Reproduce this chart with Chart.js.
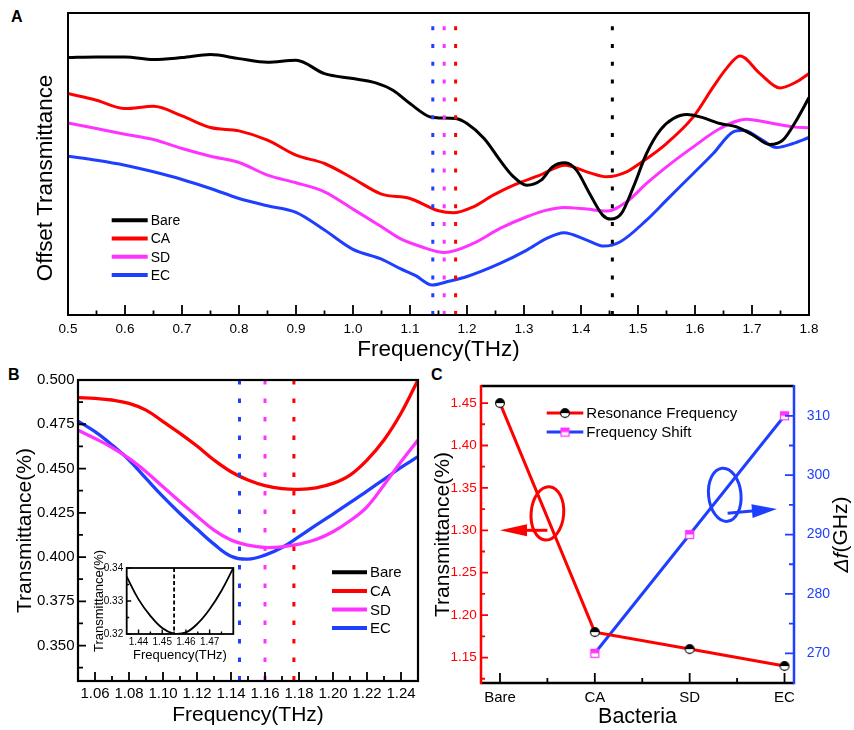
<!DOCTYPE html>
<html><head><meta charset="utf-8">
<script src="https://cdn.jsdelivr.net/npm/chart.js@4/dist/chart.umd.min.js"></script>
<style>
html,body{margin:0;padding:0;background:#fff;}
body{width:854px;height:730px;position:relative;overflow:hidden;font-family:"Liberation Sans",Arial,sans-serif;}
canvas{position:absolute;}
.pl{position:absolute;font-weight:bold;font-size:16px;line-height:16px;color:#000;}
</style></head><body>
<div class="pl" style="left:11px;top:9px">A</div>
<div class="pl" style="left:8px;top:367px">B</div>
<div class="pl" style="left:431px;top:367px">C</div>
<canvas id="cA" width="854" height="365" style="left:0;top:0"></canvas>
<canvas id="cB" width="430" height="365" style="left:0;top:365px"></canvas>
<canvas id="cI" width="146" height="122" style="left:90px;top:545px"></canvas>
<canvas id="cC" width="424" height="365" style="left:430px;top:365px"></canvas>
<script>
// ---------------- DATA ----------------
// Panel A (offset transmittance, arbitrary units)
const seriesNames = ['Bare','CA','SD','EC'];
const freqBare = [0.5,0.55,0.6,0.65,0.7,0.75,0.8,0.85,0.9,0.95,1.0,1.04,1.07,1.1,1.135,1.15,1.18,1.2,1.23,1.26,1.28,1.305,1.33,1.35,1.372,1.392,1.415,1.438,1.452,1.471,1.492,1.515,1.539,1.562,1.586,1.609,1.644,1.673,1.702,1.731,1.754,1.778,1.8];
const bareA = [773,775,775,767,773,782,770,759,765,725,710,697,675,635,595,592,590,575,530,460,418,390,405,445,457,435,365,300,288,305,385,485,555,590,602,595,575,565,540,512,525,585,653];
const freqCA = [0.5,0.55,0.6,0.65,0.7,0.75,0.8,0.85,0.9,0.95,1.0,1.05,1.1,1.15,1.176,1.211,1.246,1.282,1.328,1.372,1.41,1.445,1.48,1.503,1.55,1.597,1.632,1.655,1.679,1.714,1.749,1.778,1.8];
const caA = [665,645,620,627,598,563,553,525,480,455,410,363,350,313,307,325,360,390,420,450,430,415,430,455,515,595,685,740,778,725,682,700,725];
const freqSD = [0.5,0.55,0.6,0.65,0.7,0.75,0.8,0.85,0.9,0.95,1.0,1.05,1.082,1.12,1.16,1.211,1.258,1.305,1.34,1.37,1.41,1.445,1.48,1.515,1.55,1.597,1.644,1.69,1.737,1.772,1.8];
const sdA = [577,560,543,527,500,477,458,420,397,370,318,265,230,205,188,215,260,295,315,323,318,312,340,395,445,505,560,588,575,565,562];
const freqEC = [0.5,0.55,0.6,0.65,0.7,0.75,0.8,0.85,0.9,0.95,1.0,1.05,1.082,1.11,1.139,1.17,1.199,1.258,1.305,1.34,1.37,1.41,1.44,1.469,1.515,1.55,1.597,1.632,1.667,1.685,1.714,1.743,1.772,1.8];
const ecA = [477,465,450,430,407,380,350,328,308,255,197,168,140,118,90,102,115,155,195,230,247,225,207,220,285,345,425,485,550,555,530,503,515,533];
const ticksA = [0.5,0.6,0.7,0.8,0.9,1.0,1.1,1.2,1.3,1.4,1.5,1.6,1.7,1.8];
const resonanceA = [1.14,1.16,1.18,1.455];   // EC, SD, CA, Bare

// Panel B (transmittance near the 1.16 THz dip)
const freqB = [1.05,1.06,1.07,1.08,1.09,1.10,1.11,1.12,1.13,1.14,1.15,1.16,1.17,1.18,1.19,1.20,1.21,1.22,1.23,1.24,1.25];
const caB = [0.4900,0.4896,0.4887,0.4868,0.4830,0.4765,0.4699,0.4627,0.4548,0.4482,0.4435,0.4403,0.4386,0.4382,0.4391,0.4416,0.4463,0.4548,0.4661,0.4812,0.5000];
const sdB = [0.4717,0.4670,0.4619,0.4557,0.4482,0.4397,0.4312,0.4231,0.4152,0.4096,0.4067,0.4054,0.4058,0.4073,0.4099,0.4143,0.4205,0.4284,0.4407,0.4538,0.4661];
const ecB = [0.4768,0.4708,0.4633,0.4548,0.4444,0.4341,0.4246,0.4158,0.4073,0.4005,0.3988,0.4011,0.4054,0.4115,0.4180,0.4243,0.4307,0.4373,0.4439,0.4506,0.4567];
const ticksBx = [1.06,1.08,1.10,1.12,1.14,1.16,1.18,1.20,1.22,1.24];
const ticksBy = [0.350,0.375,0.400,0.425,0.450,0.475,0.500];
const resonanceB = [1.145,1.16,1.177];   // EC, SD, CA

// Inset (Bare dip)
const freqInset = [1.435,1.44,1.445,1.45,1.455,1.46,1.465,1.47,1.475,1.48];
const bareInset = [0.3374,0.3305,0.3255,0.3218,0.3201,0.3205,0.3232,0.3275,0.3331,0.3400];
const ticksIx = [1.44,1.45,1.46,1.47];
const ticksIy = [0.32,0.33,0.34];
const resonanceInset = 1.455;

// Panel C
const bacteria = ['Bare','CA','SD','EC'];
const resonanceFreq = [1.45,1.18,1.16,1.14];
const freqShift = [null,270,290,310];
const ticksCl = [1.15,1.20,1.25,1.30,1.35,1.40,1.45];
const ticksCr = [270,280,290,300,310];

// ---------------- STYLE ----------------
const BLACK='#000000', RED='#ff0000', MAG='#ff33ff', BLUE='#1f3fff';
const FONT='"Liberation Sans", Arial, sans-serif';
Chart.defaults.font.family = FONT;
Chart.defaults.color = '#000';
const NOGRID={display:false,drawTicks:false};

function range(a,b,s){const r=[];for(let v=a;v<=b+1e-9;v+=s)r.push(+v.toFixed(6));return r;}
function pts(xs,ys){return xs.map((x,i)=>({x:x,y:ys[i]})).filter(p=>p.y!==null);}
function lineDS(label,xs,ys,color,w){return {label:label,data:pts(xs,ys),borderColor:color,backgroundColor:color,borderWidth:w,pointRadius:0,fill:false,cubicInterpolationMode:'monotone'};}
function setTicks(arr){return s=>{s.ticks=arr.map(v=>({value:v}));};}

function inTicks(chart,axisId,values,len,color,side,lw){
  const s=chart.scales[axisId],a=chart.chartArea,ctx=chart.ctx;
  ctx.save();ctx.strokeStyle=color;ctx.lineWidth=lw||1.6;ctx.beginPath();
  values.forEach(v=>{const p=s.getPixelForValue(v);
    if(side==='bottom'){ctx.moveTo(p,a.bottom);ctx.lineTo(p,a.bottom-len);}
    else if(side==='left'){ctx.moveTo(a.left,p);ctx.lineTo(a.left+len,p);}
    else {ctx.moveTo(a.right,p);ctx.lineTo(a.right-len,p);}});
  ctx.stroke();ctx.restore();
}
function vLines(chart,xs,colors,dash,lw,fromTop){
  const ctx=chart.ctx,a=chart.chartArea,s=chart.scales.x;
  ctx.save();ctx.lineWidth=lw;ctx.setLineDash(dash);ctx.lineCap='butt';
  xs.forEach((v,i)=>{const p=s.getPixelForValue(v);ctx.strokeStyle=colors[i];ctx.beginPath();
    if(fromTop){ctx.moveTo(p,a.top);ctx.lineTo(p,a.bottom);}else{ctx.moveTo(p,a.bottom);ctx.lineTo(p,a.top);}
    ctx.stroke();});
  ctx.restore();
}
function frameBox(chart,lw){const ctx=chart.ctx,a=chart.chartArea;ctx.save();ctx.strokeStyle='#000';ctx.lineWidth=lw;ctx.strokeRect(a.left,a.top,a.right-a.left,a.bottom-a.top);ctx.restore();}
function lineLegend(chart,x0,y0,step,len,font,lw,markers){
  const ctx=chart.ctx;ctx.save();ctx.font=font;ctx.textBaseline='middle';ctx.textAlign='left';
  chart.data.datasets.forEach((d,i)=>{const y=y0+i*step;ctx.strokeStyle=d.borderColor;ctx.lineWidth=lw;ctx.beginPath();ctx.moveTo(x0,y);ctx.lineTo(x0+len,y);ctx.stroke();
    if(markers&&markers[i]){const m=markers[i];ctx.drawImage(m,x0+len/2-m.width/2,y-m.height/2);}
    ctx.fillStyle='#000';ctx.fillText(d.label,x0+len+3,y+1);});
  ctx.restore();
}
function rotText(ctx,parts,x,y){ // vertical text reading bottom-to-top, centred at x,y
  ctx.save();ctx.translate(x,y);ctx.rotate(-Math.PI/2);ctx.fillStyle='#000';ctx.textBaseline='middle';ctx.textAlign='left';
  let w=0;parts.forEach(p=>{ctx.font=p.font;p.w=ctx.measureText(p.text).width;w+=p.w;});
  let cx=-w/2;parts.forEach(p=>{ctx.font=p.font;ctx.fillText(p.text,cx,0);cx+=p.w;});
  ctx.restore();
}
const baseOpts={responsive:false,animation:false,events:[],plugins:{legend:{display:false},tooltip:{enabled:false}}};

// ---------------- PANEL A ----------------
new Chart(document.getElementById('cA'),{
  type:'line',
  data:{datasets:[lineDS(seriesNames[0],freqBare,bareA,BLACK,3),lineDS(seriesNames[1],freqCA,caA,RED,3),lineDS(seriesNames[2],freqSD,sdA,MAG,3),lineDS(seriesNames[3],freqEC,ecA,BLUE,3)]},
  options:Object.assign({},baseOpts,{
    layout:{padding:{top:13,right:45,left:0,bottom:0}},
    scales:{
      x:{type:'linear',min:0.5,max:1.8,grid:NOGRID,border:{display:false},afterBuildTicks:setTicks(ticksA),
         ticks:{callback:v=>v.toFixed(1),font:{size:13.5},padding:6,maxRotation:0,autoSkip:false},
         title:{display:true,text:'Frequency(THz)',font:{size:22.5},padding:{top:0,bottom:1.8}},afterFit:s=>{s.height=50;}},
      y:{type:'linear',min:0,max:907,grid:NOGRID,border:{display:false},ticks:{display:false},
         title:{display:false},afterFit:s=>{s.width=68;}}
    }}),
  plugins:[{id:'decorA',afterDatasetsDraw(chart){
    vLines(chart,resonanceA,[BLUE,MAG,RED,BLACK],[4,13.8],3,false);
    frameBox(chart,2);
    inTicks(chart,'x',ticksA,10,'#000','bottom',1.8);
    inTicks(chart,'x',range(0.55,1.75,0.1),4.5,'#000','bottom',1.8);
    const a=chart.chartArea;
    lineLegend(chart,a.left+43.7,a.top+207.3,18.2,36,'14px '+FONT,4);
  },afterDraw(chart){
    rotText(chart.ctx,[{text:'Offset Transmittance',font:'22.4px '+FONT}],46,178);
  }}]
});

// ---------------- PANEL B ----------------
function splineDS(label,xs,ys,color,w){return Object.assign(lineDS(label,xs,ys,color,w),{cubicInterpolationMode:'default',tension:0.4});}
new Chart(document.getElementById('cB'),{
  type:'line',
  data:{datasets:[lineDS(seriesNames[0],[],[],BLACK,3.3),splineDS(seriesNames[1],freqB,caB,RED,3.3),splineDS(seriesNames[2],freqB,sdB,MAG,3.3),splineDS(seriesNames[3],freqB,ecB,BLUE,3.3)]},
  options:Object.assign({},baseOpts,{
    layout:{padding:{top:15,right:12,left:0,bottom:0}},
    scales:{
      x:{type:'linear',min:1.05,max:1.25,grid:NOGRID,border:{display:false},afterBuildTicks:setTicks(ticksBx),
         ticks:{callback:v=>v.toFixed(2),font:{size:15},padding:4,maxRotation:0,autoSkip:false},
         title:{display:true,text:'Frequency(THz)',font:{size:21},padding:{top:0,bottom:2.4}},afterFit:s=>{s.height=49;}},
      y:{type:'linear',min:0.33,max:0.5,grid:NOGRID,border:{display:false},afterBuildTicks:setTicks(ticksBy),
         ticks:{callback:v=>v.toFixed(3),font:{size:15},padding:3.5,autoSkip:false},
         title:{display:true,text:'Transmittance(%)',font:{size:21},padding:{top:12.4,bottom:0}},afterFit:s=>{s.width=78;}}
    }}),
  plugins:[{id:'decorB',afterDatasetsDraw(chart){
    vLines(chart,resonanceB,[BLUE,MAG,RED],[4.5,14],3,true);
    frameBox(chart,2.2);
    inTicks(chart,'x',ticksBx,9,'#000','bottom',1.8);
    inTicks(chart,'x',range(1.07,1.23,0.02),5,'#000','bottom',1.8);
    inTicks(chart,'y',ticksBy,8,'#000','left',1.8);
    inTicks(chart,'y',range(0.3375,0.4875,0.025),5,'#000','left',1.8);
    const a=chart.chartArea;
    lineLegend(chart,a.left+254,a.top+192.3,18.6,35,'15px '+FONT,4);
  }}]
});

// ---------------- INSET ----------------
new Chart(document.getElementById('cI'),{
  type:'line',
  data:{datasets:[splineDS('Bare',freqInset,bareInset,BLACK,1.8)]},
  options:Object.assign({},baseOpts,{
    layout:{padding:{top:23,right:2.7,left:0,bottom:0}},
    scales:{
      x:{type:'linear',min:1.435,max:1.48,grid:NOGRID,border:{display:false},afterBuildTicks:setTicks(ticksIx),
         ticks:{callback:v=>v.toFixed(2),font:{size:10},padding:2.7,maxRotation:0,autoSkip:false},
         title:{display:true,text:'Frequency(THz)',font:{size:13},padding:{top:0,bottom:4.2}},afterFit:s=>{s.height=33;}},
      y:{type:'linear',min:0.32,max:0.34,grid:NOGRID,border:{display:false},afterBuildTicks:setTicks(ticksIy),
         ticks:{callback:v=>v.toFixed(2),font:{size:10},padding:3.5,autoSkip:false},
         title:{display:true,text:'Transmittance(%)',font:{size:13},padding:{top:1.2,bottom:0}},afterFit:s=>{s.width=36.7;}}
    }}),
  plugins:[{id:'decorI',afterDatasetsDraw(chart){
    vLines(chart,[resonanceInset],[BLACK],[4,2.5],1.8,true);
    frameBox(chart,1.8);
    inTicks(chart,'x',ticksIx,4.5,'#000','bottom',1.4);
    inTicks(chart,'x',range(1.445,1.475,0.01),2.5,'#000','bottom',1.4);
    inTicks(chart,'y',ticksIy,4.5,'#000','left',1.4);
    inTicks(chart,'y',[0.325,0.335],2.5,'#000','left',1.4);
  }}]
});

// ---------------- PANEL C ----------------
function halfCircle(){const c=document.createElement('canvas');c.width=12;c.height=12;const g=c.getContext('2d');
  g.beginPath();g.arc(6,6,4.4,0,2*Math.PI);g.fillStyle='#fff';g.fill();
  g.beginPath();g.arc(6,6,4.4,Math.PI,2*Math.PI);g.closePath();g.fillStyle='#000';g.fill();
  g.beginPath();g.arc(6,6,4.4,0,2*Math.PI);g.lineWidth=1.1;g.strokeStyle='#000';g.stroke();return c;}
function halfSquare(){const c=document.createElement('canvas');c.width=11;c.height=11;const g=c.getContext('2d');
  g.fillStyle='#fff';g.fillRect(1.5,1.5,8,8);g.fillStyle=MAG;g.fillRect(1.5,1.5,8,4);
  g.strokeStyle=MAG;g.lineWidth=1.2;g.strokeRect(1.5,1.5,8,8);return c;}
const mkCirc=halfCircle(), mkSq=halfSquare();
const annotRedEllipse={x:0.5,y:1.32}, annotRedArrow={from:{x:0.5,y:1.30},to:{x:0,y:1.30}};
const annotBlueEllipse={x:2.37,y:296.7}, annotBlueArrow={from:{x:2.4,y:293.6},to:{x:2.92,y:294.3}};

function arrow(ctx,x1,y1,x2,y2,color,hl,hw){
  const ang=Math.atan2(y2-y1,x2-x1);const bx=x2-hl*Math.cos(ang),by=y2-hl*Math.sin(ang);
  ctx.save();ctx.strokeStyle=color;ctx.fillStyle=color;ctx.lineWidth=3;ctx.beginPath();ctx.moveTo(x1,y1);ctx.lineTo(bx,by);ctx.stroke();
  ctx.beginPath();ctx.moveTo(x2,y2);ctx.lineTo(bx-hw*Math.sin(ang),by+hw*Math.cos(ang));ctx.lineTo(bx+hw*Math.sin(ang),by-hw*Math.cos(ang));ctx.closePath();ctx.fill();ctx.restore();
}
function ellipse(ctx,x,y,rx,ry,rot,color){ctx.save();ctx.strokeStyle=color;ctx.lineWidth=3;ctx.beginPath();ctx.ellipse(x,y,rx,ry,rot,0,2*Math.PI);ctx.stroke();ctx.restore();}

new Chart(document.getElementById('cC'),{
  type:'line',
  data:{datasets:[
    Object.assign(lineDS('Resonance Frequency',bacteria.map((c,i)=>i),resonanceFreq,RED,3),{yAxisID:'y',pointStyle:mkCirc,pointRadius:4,cubicInterpolationMode:'default',tension:0}),
    Object.assign(lineDS('Frequency Shift',bacteria.map((c,i)=>i),freqShift,BLUE,3),{yAxisID:'y2',pointStyle:mkSq,pointRadius:4,cubicInterpolationMode:'default',tension:0})
  ]},
  options:Object.assign({},baseOpts,{
    layout:{padding:{top:19,right:0,left:0,bottom:0}},
    scales:{
      x:{type:'linear',min:-0.2,max:3.1,grid:NOGRID,border:{display:false},afterBuildTicks:setTicks(bacteria.map((c,i)=>i)),
         ticks:{callback:v=>bacteria[v],font:{size:15},padding:6,maxRotation:0,autoSkip:false},
         title:{display:true,text:'Bacteria',font:{size:21.5},padding:{top:0,bottom:0}},afterFit:s=>{s.height=47;}},
      y:{type:'linear',position:'left',min:1.12,max:1.47,grid:NOGRID,border:{display:false},afterBuildTicks:setTicks(ticksCl),
         ticks:{callback:v=>v.toFixed(2),color:RED,font:{size:13.5},padding:4.3,autoSkip:false},
         title:{display:true,text:'Transmittance(%)',font:{size:21},padding:{top:0.4,bottom:0}},afterFit:s=>{s.width=51;}},
      y2:{type:'linear',position:'right',min:265,max:315,grid:NOGRID,border:{display:false},afterBuildTicks:setTicks(ticksCr),
         ticks:{callback:v=>String(v),color:BLUE,font:{size:14},padding:12.7,autoSkip:false},
         title:{display:false},afterFit:s=>{s.width=60;}}
    }}),
  plugins:[{id:'decorC',
    afterDatasetsDraw(chart){
      const ctx=chart.ctx,a=chart.chartArea,sx=chart.scales.x,sl=chart.scales.y,sr=chart.scales.y2;
      ctx.save();ctx.lineWidth=2.5;
      ctx.strokeStyle='#000';ctx.beginPath();ctx.moveTo(a.left,a.top);ctx.lineTo(a.right,a.top);ctx.moveTo(a.left,a.bottom);ctx.lineTo(a.right,a.bottom);ctx.stroke();
      ctx.strokeStyle=RED;ctx.beginPath();ctx.moveTo(a.left,a.top-1.2);ctx.lineTo(a.left,a.bottom+1.2);ctx.stroke();
      ctx.strokeStyle=BLUE;ctx.beginPath();ctx.moveTo(a.right,a.top-1.2);ctx.lineTo(a.right,a.bottom+1.2);ctx.stroke();
      ctx.restore();
      inTicks(chart,'x',bacteria.map((c,i)=>i),10,'#000','bottom',1.8);
      inTicks(chart,'x',[0.5,1.5,2.5],5,'#000','bottom',1.8);
      inTicks(chart,'y',ticksCl,7,RED,'left',1.8);
      inTicks(chart,'y',range(1.125,1.425,0.05),4,RED,'left',1.8);
      inTicks(chart,'y2',ticksCr,9,BLUE,'right',1.8);
      inTicks(chart,'y2',range(275,305,10),5,BLUE,'right',1.8);
      // annotations
      ellipse(ctx,sx.getPixelForValue(annotRedEllipse.x),sl.getPixelForValue(annotRedEllipse.y),16.3,26.7,0.08,RED);
      arrow(ctx,sx.getPixelForValue(annotRedArrow.from.x),sl.getPixelForValue(annotRedArrow.from.y),sx.getPixelForValue(annotRedArrow.to.x),sl.getPixelForValue(annotRedArrow.to.y),RED,27,6);
      ellipse(ctx,sx.getPixelForValue(annotBlueEllipse.x),sr.getPixelForValue(annotBlueEllipse.y),16.2,26.7,-0.1,BLUE);
      arrow(ctx,sx.getPixelForValue(annotBlueArrow.from.x),sr.getPixelForValue(annotBlueArrow.from.y),sx.getPixelForValue(annotBlueArrow.to.x),sr.getPixelForValue(annotBlueArrow.to.y),BLUE,25,7);
      // legend
      lineLegend(chart,a.left+65.7,a.top+27,19,36.6,'15px '+FONT,3,[mkCirc,mkSq]);
    },
    afterDraw(chart){
      const a=chart.chartArea;
      rotText(chart.ctx,[{text:'\u0394f',font:'italic 21px '+FONT},{text:'(GHz)',font:'21px '+FONT}],a.right+47.7,(a.top+a.bottom)/2);
    }}]
});
</script>
</body></html>
